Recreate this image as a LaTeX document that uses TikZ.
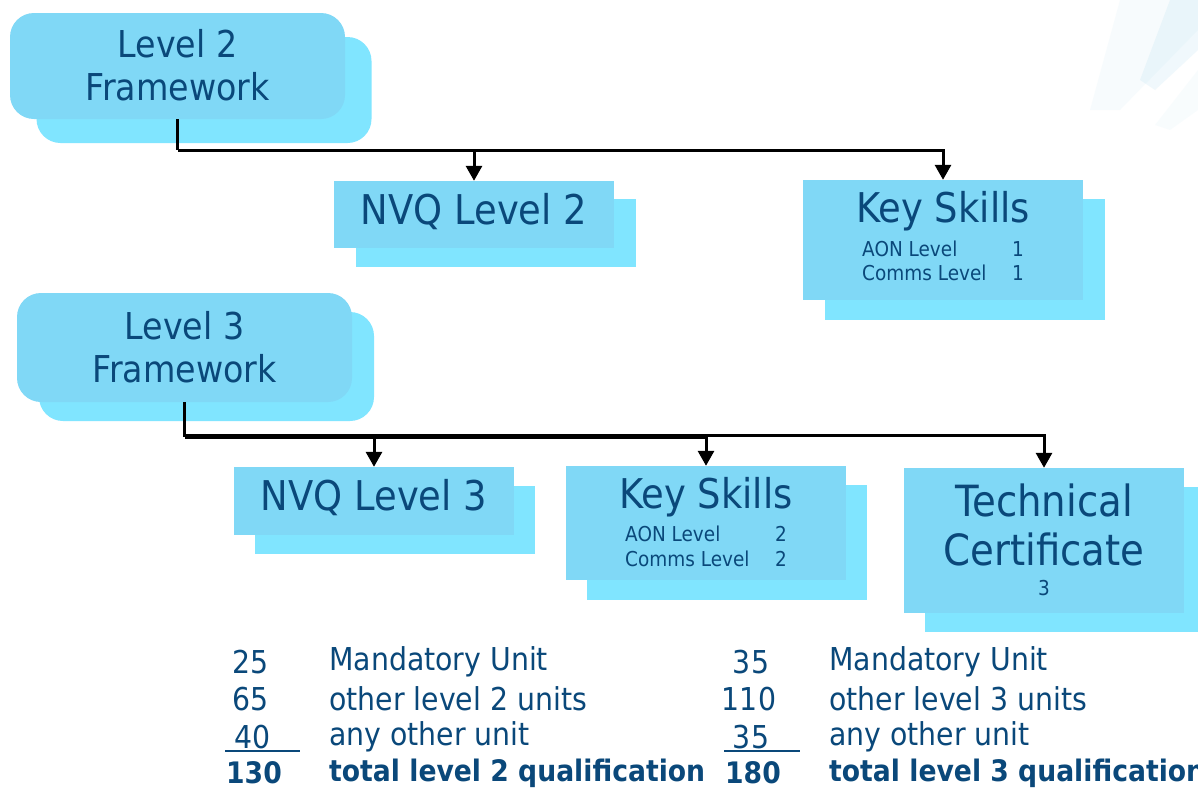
\documentclass[tikz,border=0pt]{standalone}
\usepackage{fontspec}
\setmainfont[FakeStretch=0.9]{DejaVu Sans}
\usetikzlibrary{arrows.meta,calc}
\definecolor{frontc}{RGB}{128,216,246}
\definecolor{backc}{RGB}{128,229,255}
\definecolor{ink}{RGB}{10,72,122}
\definecolor{stripe}{RGB}{150,210,235}
\tikzset{
  frontbox/.style={fill=frontc, draw=none, inner sep=0pt, minimum width=280pt},
  backbox/.style={fill=backc, draw=none, inner sep=0pt, minimum width=280pt},
  fwfront/.style={fill=frontc, draw=none, inner sep=0pt, minimum width=335pt, rounded corners=24pt},
  fwback/.style={fill=backc, draw=none, inner sep=0pt, minimum width=335pt, rounded corners=24pt},
  bigtxt/.style={text=ink, inner sep=0pt, font=\fontsize{41}{48}\selectfont},
  fwtxt/.style={text=ink, inner sep=0pt, font=\fontsize{37}{44}\selectfont},
  smalltxt/.style={text=ink, inner sep=0pt, font=\fontsize{20.5}{24}\selectfont},
  bottxt/.style={text=ink, inner sep=0pt, font=\fontsize{31.5}{36}\selectfont},
  boldtxt/.style={text=ink, inner sep=0pt, font=\fontsize{29.6}{34}\selectfont\bfseries},
  conn/.style={line width=3pt, -{Triangle[width=16pt,length=15pt]}},
  plain/.style={line width=3pt},
  rule/.style={line width=2.6pt, draw=ink}
}
\begin{document}
\begin{tikzpicture}[x=1pt,y=-1pt]
\clip (0,0) rectangle (1198,790);
\fill[white] (0,0) rectangle (1198,790);
% faint decoration, top right
\fill[stripe, opacity=0.07] (1120,0) -- (1198,0) -- (1198,30) -- (1120,110) -- (1090,110) -- cycle;
\fill[stripe, opacity=0.14] (1170,0) -- (1198,0) -- (1198,50) -- (1155,90) -- (1140,80) -- cycle;
\fill[stripe, opacity=0.06] (1198,70) -- (1198,110) -- (1170,130) -- (1155,125) -- cycle;

% Level 2 framework
\node[fwback, minimum height=106pt] (l2fb) at (204,90) {};
\node[fwfront, minimum height=106pt] (l2f) at (177.5,66) {};
\node[fwtxt] (l2ft1) at (177.5,44) {Level 2};
\node[fwtxt] (l2ft2) at (177.5,87) {Framework};

% NVQ Level 2
\node[backbox, minimum height=68pt] (nvq2b) at (496,233) {};
\node[frontbox, minimum height=67pt] (nvq2) at (474,214.5) {};
\node[bigtxt] (nvq2t) at (474,212) {NVQ Level 2};

% Key Skills L2
\node[backbox, minimum height=121pt] (ks2b) at (965,259.5) {};
\node[frontbox, minimum height=120pt] (ks2) at (943,240) {};
\node[bigtxt] (ks2t) at (943,211) {Key Skills};
\node[smalltxt, anchor=west] (ks2a) at (862,249) {AON Level};
\node[smalltxt] (ks2an) at (1018,249) {1};
\node[smalltxt, anchor=west] (ks2c) at (862,273) {Comms Level};
\node[smalltxt] (ks2cn) at (1018,273) {1};

% Level 3 framework
\node[fwback, minimum height=109pt] (l3fb) at (206.5,366.5) {};
\node[fwfront, minimum height=109pt] (l3f) at (184.5,347.5) {};
\node[fwtxt] (l3ft1) at (184.5,326) {Level 3};
\node[fwtxt] (l3ft2) at (184.5,369) {Framework};

% NVQ Level 3
\node[backbox, minimum height=68pt] (nvq3b) at (395,520) {};
\node[frontbox, minimum height=68pt] (nvq3) at (374,501) {};
\node[bigtxt] (nvq3t) at (374,498) {NVQ Level 3};

% Key Skills L3
\node[backbox, minimum height=115pt] (ks3b) at (727,542.5) {};
\node[frontbox, minimum height=114pt] (ks3) at (706,523) {};
\node[bigtxt] (ks3t) at (706,497) {Key Skills};
\node[smalltxt, anchor=west] (ks3a) at (625,534) {AON Level};
\node[smalltxt] (ks3an) at (781,534) {2};
\node[smalltxt, anchor=west] (ks3c) at (625,559) {Comms Level};
\node[smalltxt] (ks3cn) at (781,559) {2};

% Technical Certificate
\node[backbox, minimum height=145pt] (tcb) at (1065,559.5) {};
\node[frontbox, minimum height=145pt] (tc) at (1044,540.5) {};
\node[bigtxt, font=\fontsize{43}{50}\selectfont] (tct1) at (1044,500) {Technical};
\node[bigtxt, font=\fontsize{43}{50}\selectfont] (tct2) at (1044,549) {Certificate};
\node[smalltxt] (tct3) at (1044,588) {3};

% connectors level 2
\coordinate (j2) at (177.5,150);
\draw[plain] (l2f.south) -- (j2);
\draw[conn] (j2) -| (nvq2.north);
\draw[conn] (j2) -| (ks2.north);

% connectors level 3
\coordinate (j3) at (184.5,437);
\coordinate (j3b) at (184.5,435);
\draw[plain] (l3f.south) -- (j3);
\draw[conn] (j3) -| (nvq3.north);
\draw[conn] (j3) -| (ks3.north);
\draw[conn] (j3b) -| (tc.north);

% bottom table left
\node[bottxt] (n25) at (251,662) {25};
\node[bottxt] (n65) at (251,699) {65};
\node[bottxt] (n40) at (253,737) {40};
\node[boldtxt] (n130) at (254,773) {130};
\node[bottxt, anchor=west] (t25) at (329,662) {Mandatory Unit};
\node[bottxt, anchor=west] (t65) at (329,699) {other level 2 units};
\node[bottxt, anchor=west] (t40) at (329,737) {any other unit};
\node[boldtxt, anchor=west] (t130) at (329,773) {total level 2 qualification};
\coordinate (u1a) at (225,751);
\coordinate (u1b) at (300,751);
\draw[rule] (u1a) -- (u1b);

% bottom table right
\node[bottxt] (n35) at (751,662) {35};
\node[bottxt] (n110) at (749,699) {110};
\node[bottxt] (n35b) at (751,737) {35};
\node[boldtxt] (n180) at (753,773) {180};
\node[bottxt, anchor=west] (s35) at (829,662) {Mandatory Unit};
\node[bottxt, anchor=west] (s110) at (829,699) {other level 3 units};
\node[bottxt, anchor=west] (s35b) at (829,737) {any other unit};
\node[boldtxt, anchor=west] (s180) at (829,773) {total level 3 qualification};
\coordinate (u2a) at (724,751);
\coordinate (u2b) at (800,751);
\draw[rule] (u2a) -- (u2b);
\end{tikzpicture}
\end{document}
